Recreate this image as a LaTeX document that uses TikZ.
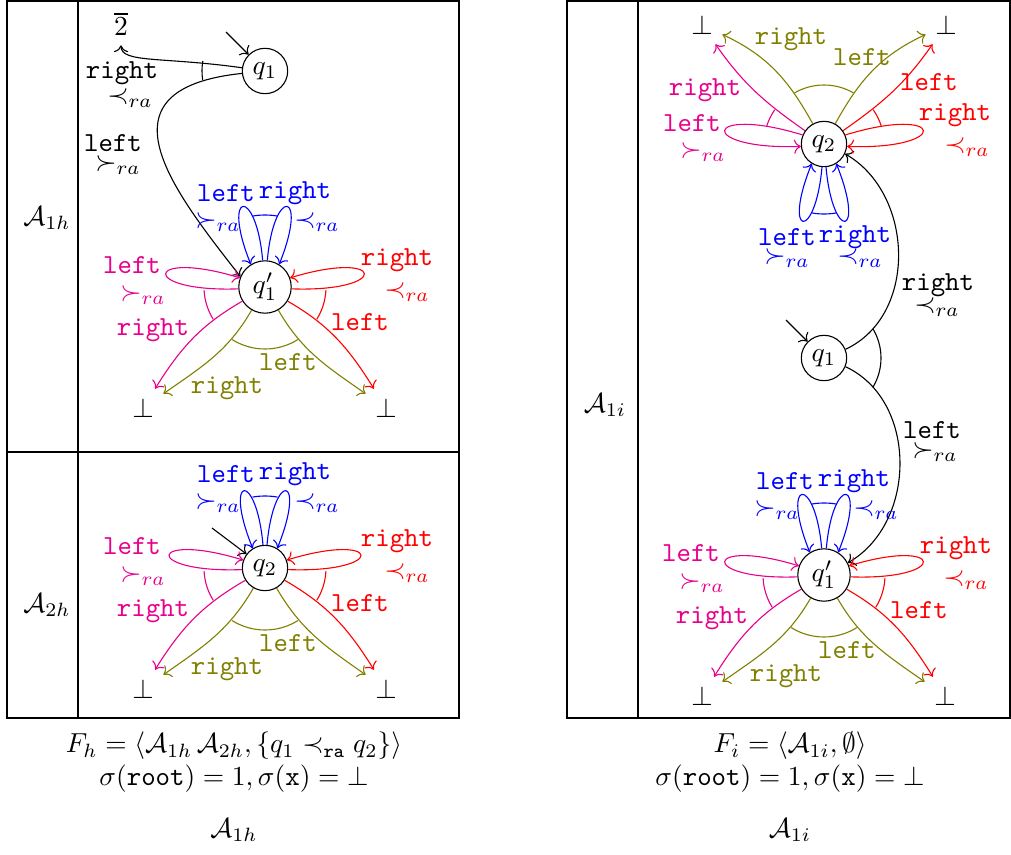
\documentclass[tikz,border=0pt]{standalone}
\usepackage{amsmath,amssymb}
\usepackage{xcolor}
\definecolor{pinkred}{RGB}{232,0,140}
\definecolor{olivegr}{RGB}{128,128,0}
\usepackage{tikz}
\usetikzlibrary{arrows.meta,positioning,calc}

\begin{document}
\begin{tikzpicture}[
    x=0.3636pt, y=0.3636pt,
    qstate/.style={circle, draw, inner sep=2pt, minimum size=16pt},
    botn/.style={inner sep=3.33pt},
    frame/.style={thick},
  ]
  \useasboundingbox (0,0) rectangle (1011,854);

  % frames
  \draw[frame] (7,136) rectangle (459,853);
  \draw[frame] (7,402) -- (459,402);
  \draw (78,136) -- (78,853);
  \draw[frame] (567,136) rectangle (1010.5,853);
  \draw (638,136) -- (638,853);

  \node (a1h) at (47,636) {$\mathcal{A}_{1h}$};
  \node (a2h) at (47,249) {$\mathcal{A}_{2h}$};
  \node (a1i) at (605,449) {$\mathcal{A}_{1i}$};

  % states
  \node[qstate] (h1)  at (265,783) {$q_1$};
  \node[qstate] (h1p) at (265,567) {$q'_1$};
  \node[qstate] (h2)  at (265,286) {$q_2$};
  \node[qstate] (i2)  at (824,710) {$q_2$};
  \node[qstate] (i1)  at (824,496) {$q_1$};
  \node[qstate] (i1p) at (824,279) {$q'_1$};

  \coordinate (h1in) at (226,822);
  \coordinate (h2in) at (212,326);
  \coordinate (i1in) at (786,534);
  \draw[->] (h1in) -- (h1);
  \draw[->] (h2in) -- (h2);
  \draw[->] (i1in) -- (i1);

  % q1 of A1h
  \node (two) at (121,830) {$\overline{2}$};
  \draw[->] (h1.172) .. controls +(172:80) and +(-90:18) .. (two.south);
  \draw[->] (h1.186) .. controls +(186:150) and +(128:110) .. (h1p.157);
  \draw (h1.center) ++(171:63) arc[start angle=171,end angle=188,radius=63];
  \node (h1r) at (122,781) {\texttt{right}};
  \node (h1rr) at (130,756) {$\prec_{ra}$};
  \node (h1l) at (113,711) {\texttt{left}};
  \node (h1lr) at (118,689) {$\succ_{ra}$};

  % q1 of A1i
  \draw[->] (i1.22) .. controls +(25:80) and +(-30:80) .. (i2.-25);
  \draw[->] (i1.-22) .. controls +(-25:80) and +(30:80) .. (i1p.27);
  \draw (i1.center) ++(31:57) arc[start angle=31,end angle=-31,radius=57];
  \node (i1r) at (938,569) {\texttt{right}};
  \node (i1rr) at (937,547) {$\prec_{ra}$};
  \node (i1l) at (932,424) {\texttt{left}};
  \node (i1lr) at (935,402) {$\succ_{ra}$};

  % flowers below the state
  \foreach \s in {h1p,h2,i1p}{
    \node[botn] (\s-bl) at ($(\s)+(-122,-121)$) {$\bot$};
    \node[botn] (\s-br) at ($(\s)+(121,-121)$) {$\bot$};
    % blue loops
    \draw[->,blue] (\s.95) .. controls +(95:75) and +(112:80) .. (\s.122);
    \draw[->,blue] (\s.85) .. controls +(85:75) and +(68:80) .. (\s.58);
    \draw[blue] (\s.center) ++(100:72) arc[start angle=100,end angle=80,radius=72];
    \node[blue] (\s-b1) at ($(\s)+(-39,94)$) {\texttt{left}};
    \node[blue] (\s-b2) at ($(\s)+(-47,65)$) {$\succ_{ra}$};
    \node[blue] (\s-b3) at ($(\s)+(30,94)$) {\texttt{right}};
    \node[blue] (\s-b4) at ($(\s)+(52,65)$) {$\prec_{ra}$};
    % pink
    \draw[->,pinkred] (\s.184) .. controls +(182:100) and +(163:100) .. (\s.160);
    \draw[->,pinkred] (\s.212) to[out=210,in=58] (\s-bl);
    \draw[pinkred] (\s.center) ++(183:61) arc[start angle=183,end angle=212,radius=61];
    \node[pinkred] (\s-m1) at ($(\s)+(-133,22)$) {\texttt{left}};
    \node[pinkred] (\s-m2) at ($(\s)+(-122,-8)$) {$\succ_{ra}$};
    \node[pinkred] (\s-m3) at ($(\s)+(-112,-43)$) {\texttt{right}};
    % red
    \draw[->,red] (\s.356) .. controls +(-2:100) and +(17:100) .. (\s.20);
    \draw[->,red] (\s.328) to[out=330,in=122] (\s-br);
    \draw[red] (\s.center) ++(-3:61) arc[start angle=-3,end angle=-32,radius=61];
    \node[red] (\s-r1) at ($(\s)+(132,27)$) {\texttt{right}};
    \node[red] (\s-r2) at ($(\s)+(142,-5)$) {$\prec_{ra}$};
    \node[red] (\s-r3) at ($(\s)+(95,-35)$) {\texttt{left}};
    % olive
    \draw[->,olivegr] (\s.240) to[out=240,in=35] (\s-bl);
    \draw[->,olivegr] (\s.300) to[out=300,in=145] (\s-br);
    \draw[olivegr] (\s.center) ++(238:62) arc[start angle=238,end angle=302,radius=62];
    \node[olivegr] (\s-o1) at ($(\s)+(23,-75)$) {\texttt{left}};
    \node[olivegr] (\s-o2) at ($(\s)+(-38,-101)$) {\texttt{right}};
  }

  % flower above q2 of A1i
  \node[botn] (i2-tl) at (702,829) {$\bot$};
  \node[botn] (i2-tr) at (946,829) {$\bot$};
  \draw[->,blue] (i2.265) .. controls +(265:75) and +(248:80) .. (i2.238);
  \draw[->,blue] (i2.275) .. controls +(275:75) and +(292:80) .. (i2.302);
  \draw[blue] (i2.center) ++(260:70) arc[start angle=260,end angle=280,radius=70];
  \node[blue] (i2-b1) at (787,617) {\texttt{left}};
  \node[blue] (i2-b2) at (787,596) {$\succ_{ra}$};
  \node[blue] (i2-b3) at (855,617) {\texttt{right}};
  \node[blue] (i2-b4) at (860,596) {$\prec_{ra}$};
  \draw[->,pinkred] (i2.157) .. controls +(163:105) and +(182:105) .. (i2.186);
  \draw[->,pinkred] (i2.145) to[out=145,in=-55] (i2-tl);
  \draw[pinkred] (i2.center) ++(163:60) arc[start angle=163,end angle=145,radius=60];
  \node[pinkred] (i2-m1) at (692,731) {\texttt{left}};
  \node[pinkred] (i2-m2) at (703,702) {$\succ_{ra}$};
  \node[pinkred] (i2-m3) at (705,764) {\texttt{right}};
  \draw[->,red] (i2.23) .. controls +(17:105) and +(-2:105) .. (i2.354);
  \draw[->,red] (i2.35) to[out=35,in=235] (i2-tr);
  \draw[red] (i2.center) ++(17:60) arc[start angle=17,end angle=35,radius=60];
  \node[red] (i2-r1) at (955,739) {\texttt{right}};
  \node[red] (i2-r2) at (967,707) {$\prec_{ra}$};
  \node[red] (i2-r3) at (929,772) {\texttt{left}};
  \draw[->,olivegr] (i2.119) to[out=119,in=-25] (i2-tl);
  \draw[->,olivegr] (i2.61) to[out=61,in=205] (i2-tr);
  \draw[olivegr] (i2.center) ++(60:59) arc[start angle=60,end angle=120,radius=59];
  \node[olivegr] (i2-o1) at (862,797) {\texttt{left}};
  \node[olivegr] (i2-o2) at (791,815) {\texttt{right}};

  % captions
  \node (fh) at (234,108) {$F_h = \langle \mathcal{A}_{1h}\,\mathcal{A}_{2h}, \{q_1 \prec_{\texttt{ra}} q_2\}\rangle$};
  \node (sh) at (234,75) {$\sigma(\texttt{root}) = 1, \sigma(\texttt{x}) = \bot$};
  \node (nh) at (234,24) {$\mathcal{A}_{1h}$};
  \node (fi) at (790,108) {$F_i = \langle \mathcal{A}_{1i}, \emptyset\rangle$};
  \node (si) at (790,75) {$\sigma(\texttt{root}) = 1, \sigma(\texttt{x}) = \bot$};
  \node (ni) at (790,24) {$\mathcal{A}_{1i}$};
\end{tikzpicture}
\end{document}
